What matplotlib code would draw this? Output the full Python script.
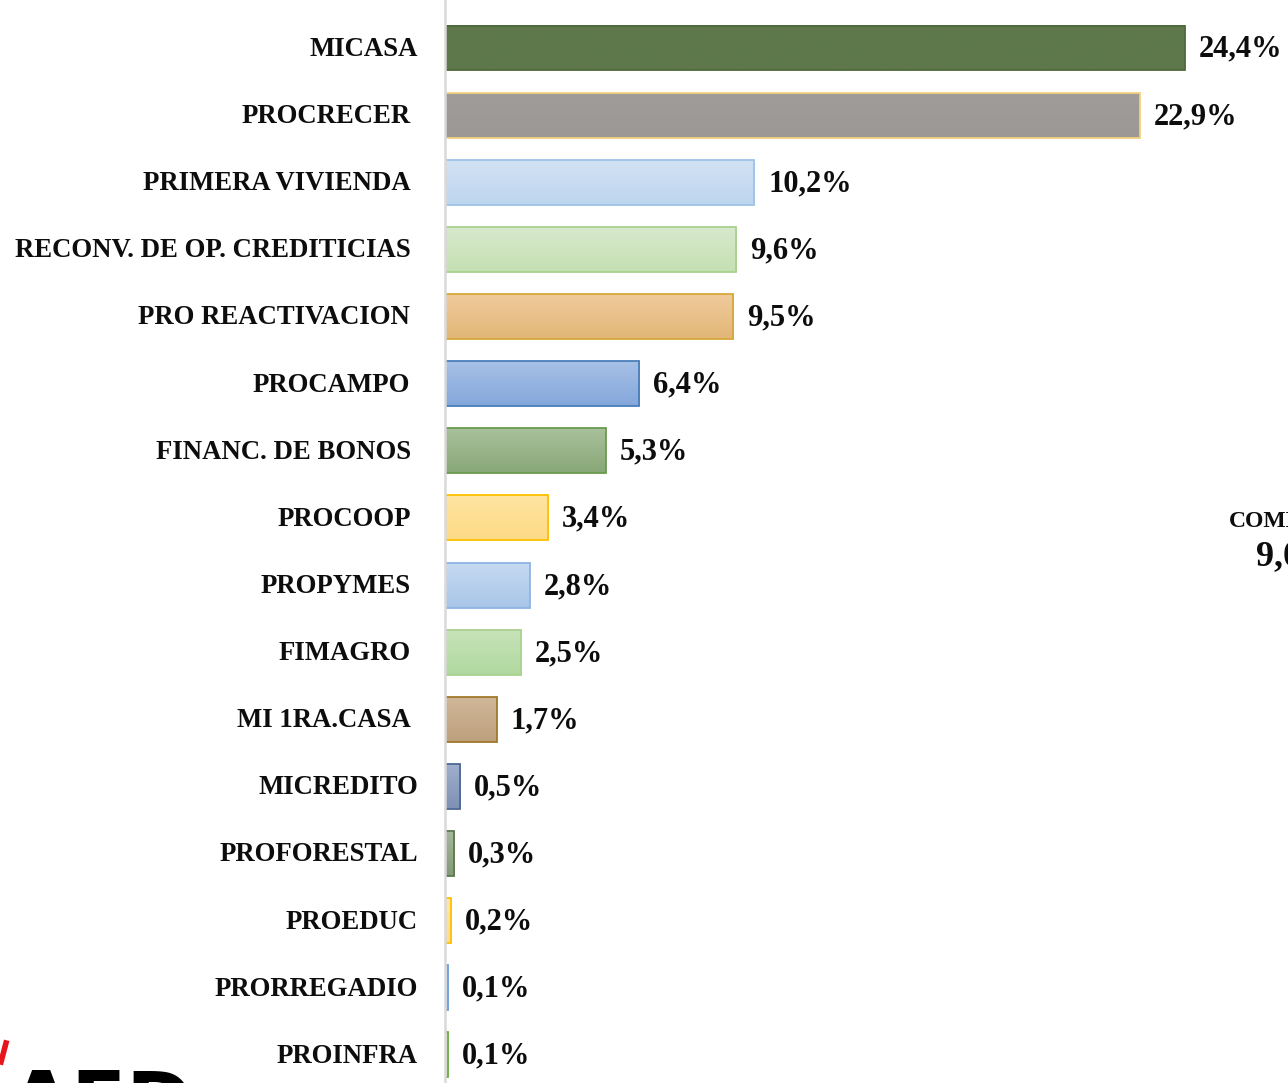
import matplotlib
matplotlib.use("Agg")
import matplotlib.pyplot as plt
import numpy as np
from matplotlib.colors import to_rgb, LinearSegmentedColormap
from matplotlib.lines import Line2D

categories = ["MICASA", "PROCRECER", "PRIMERA VIVIENDA", "RECONV. DE OP. CREDITICIAS",
              "PRO REACTIVACION", "PROCAMPO", "FINANC. DE BONOS", "PROCOOP", "PROPYMES",
              "FIMAGRO", "MI 1RA.CASA", "MICREDITO", "PROFORESTAL", "PROEDUC",
              "PRORREGADIO", "PROINFRA"]
values = [24.4, 22.9, 10.2, 9.6, 9.5, 6.4, 5.3, 3.4, 2.8, 2.5, 1.7, 0.5, 0.3, 0.2, 0.1, 0.1]
value_labels = ["24,4%", "22,9%", "10,2%", "9,6%", "9,5%", "6,4%", "5,3%", "3,4%", "2,8%",
                "2,5%", "1,7%", "0,5%", "0,3%", "0,2%", "0,1%", "0,1%"]

# (top colour, bottom colour, edge colour)
styles = [
    ("#5E784B", "#5E784B", "#4E6A3C"),
    ("#A09C99", "#9C9895", "#F2D27E"),
    ("#D2E2F4", "#BDD5EE", "#9DC3E6"),
    ("#D7E9CC", "#C5E0B3", "#A9D18E"),
    ("#EFCB9C", "#E2B676", "#D6A838"),
    ("#A7C0E6", "#84A7DB", "#4A7EBB"),
    ("#A9C09C", "#88A877", "#6B9A50"),
    ("#FFE4A0", "#FDDA86", "#FFC000"),
    ("#C6DAF1", "#A8C5E8", "#8EB4E3"),
    ("#C7E3B9", "#B0D89E", "#A9D18E"),
    ("#CFB799", "#BEA07D", "#A0782A"),
    ("#A0AFCB", "#7E91B4", "#4E6896"),
    ("#A6B79A", "#84997A", "#5E7A4E"),
    ("#FFE6AA", "#FFDB8C", "#FFC000"),
    ("#C8DDF2", "#B2CFEC", "#6FA0D8"),
    ("#D0E7C2", "#BFDDAA", "#70AD47"),
]
label_pad = [27, 34, 34, 34, 35, 35, 34, 34, 34, 34, 34, 27, 27, 27, 27, 27]

W, H = 1288, 1083
fig = plt.figure(figsize=(W / 100, H / 100), dpi=100)
ax = fig.add_axes([445 / W, 0, 1 - 445 / W, 1])

px_per_unit = (1185 - 445) / 24.4
step = 67.13

y = np.arange(len(categories))
bars = ax.barh(y, values, height=0.67, color="none", zorder=2)

for b, (c1, c2, ec) in zip(bars, styles):
    cmap = LinearSegmentedColormap.from_list("g", [to_rgb(c1), to_rgb(c2)])
    x0, y0, w, h = b.get_x(), b.get_y(), b.get_width(), b.get_height()
    grad = np.linspace(0, 1, 64).reshape(-1, 1)
    ax.imshow(grad, cmap=cmap, aspect="auto", extent=(x0, x0 + w, y0, y0 + h),
              origin="lower", zorder=1, interpolation="bilinear")
    b.set_edgecolor(ec)
    b.set_linewidth(1.3)

ax.set_xlim(0, (W - 445) / px_per_unit)
ax.set_ylim((H - 48) / step, -48 / step)

lab_font = dict(family="Liberation Serif", weight="bold", fontsize=19.3)
val_font = dict(family="Liberation Serif", weight="bold", fontsize=22)
for i, (cat, lab, v) in enumerate(zip(categories, value_labels, values)):
    ax.annotate(cat, xy=(0, i), xytext=(-label_pad[i] * 0.72, -1), textcoords="offset points",
                ha="right", va="center", color="#0D0D0D", annotation_clip=False, **lab_font)
    ax.annotate(lab, xy=(v, i), xytext=(14 * 0.72, -1), textcoords="offset points",
                ha="left", va="center", color="#0D0D0D", annotation_clip=False, **val_font)

for s in ["top", "right", "bottom"]:
    ax.spines[s].set_visible(False)
ax.spines["left"].set_color("#D9D9D9")
ax.spines["left"].set_linewidth(1.8)
ax.set_xticks([])
ax.set_yticks([])
ax.patch.set_alpha(0)

# cropped neighbouring content at the right edge (cut off in the reference too)
fig.text(1229 / W, 1 - 521 / H, "COMERCIAL", ha="left", va="center", color="#0D0D0D",
         family="Liberation Serif", weight="bold", fontsize=17)
fig.text(1256 / W, 1 - 557 / H, "9,0%", ha="left", va="center", color="#0D0D0D",
         family="Liberation Serif", weight="bold", fontsize=26)

# cropped logo at bottom left
fig.add_artist(Line2D([1 / W, 6 / W], [1 - 1062 / H, 1 - 1043 / H], color="#E8141B", lw=4))
fig.text(10 / W, 1 - 1068 / H, "AFD", ha="left", va="top", color="black",
         family="DejaVu Sans", weight="bold", fontsize=58)

fig.savefig("out.png", dpi=100)
